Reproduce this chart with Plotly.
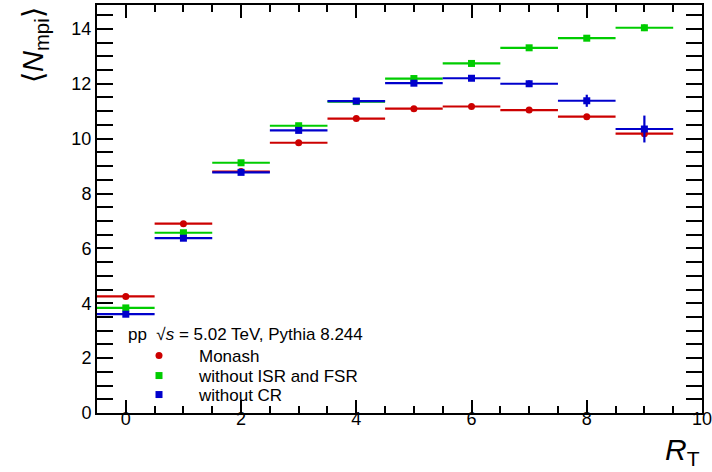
import plotly.graph_objects as go

# ---- data ----
rt = [0, 1, 2, 3, 4, 5, 6, 7, 8, 9]
bin_half = [0.5, 0.5, 0.5, 0.5, 0.5, 0.5, 0.5, 0.5, 0.5, 0.5]

monash = [4.25, 6.90, 8.80, 9.85, 10.73, 11.09, 11.17, 11.04, 10.80, 10.18]
monash_err = [0.01, 0.02, 0.03, 0.03, 0.04, 0.04, 0.05, 0.06, 0.08, 0.12]

no_isr_fsr = [3.83, 6.57, 9.12, 10.47, 11.35, 12.19, 12.74, 13.31, 13.66, 14.04]
no_isr_fsr_err = [0.01, 0.02, 0.03, 0.03, 0.04, 0.04, 0.05, 0.06, 0.08, 0.12]

no_cr = [3.60, 6.37, 8.77, 10.30, 11.37, 12.02, 12.20, 12.00, 11.38, 10.35]
no_cr_err = [0.02, 0.03, 0.04, 0.05, 0.06, 0.08, 0.09, 0.12, 0.22, 0.49]

x_range = [-0.5, 10]
y_range = [0, 14.87]

# (name, values, errors, colour, symbol, legend, x-axis)
series = [
    ("Monash", monash, monash_err, "rgb(204,0,0)", "circle", "legend", "x"),
    ("without ISR and FSR", no_isr_fsr, no_isr_fsr_err, "rgb(0,204,0)", "square", "legend2", "x"),
    ("without CR", no_cr, no_cr_err, "rgb(0,0,204)", "square", "legend3", "x2"),
]

FONT = "Liberation Sans, Arial, Helvetica, sans-serif"

fig = go.Figure()
for name, y, ey, col, sym, lg, xa in series:
    fig.add_trace(go.Scatter(
        x=rt, y=y, mode="markers", name=name, legend=lg, showlegend=True,
        xaxis=xa, yaxis="y",
        marker=dict(color=col, symbol=sym, size=7, line=dict(width=0)),
        error_x=dict(type="data", array=bin_half, color=col, thickness=2.2, width=0),
        error_y=dict(type="data", array=ey, color=col, thickness=2.2, width=0),
    ))

W, H = 712, 472
L, R, T, B = 97, 10, 5, 59
pw, ph = W - L - R, H - T - B

def px_x(p):
    return (p - L) / pw

def px_y(p):
    return (H - B - p) / ph

axis_common = dict(
    showline=True, linecolor="black", linewidth=2, mirror="allticks",
    ticks="inside", tickcolor="black", tickwidth=2,
    showgrid=False, zeroline=False, automargin=False,
    tickfont=dict(family=FONT, size=18, color="black"),
)

fig.update_layout(
    xaxis=dict(range=x_range, tick0=0, dtick=2, ticklen=13, showticklabels=False,
               minor=dict(dtick=0.5, tick0=0, ticks="inside", ticklen=7,
                          tickwidth=2, tickcolor="black", showgrid=False),
               **axis_common),
    xaxis2=dict(range=x_range, tick0=0, dtick=2, overlaying="x", anchor="free",
                position=7 / ph, side="bottom", showline=False, ticks="",
                showgrid=False, zeroline=False, showticklabels=True,
                ticklabeloverflow="allow", automargin=False,
                tickfont=dict(family=FONT, size=18, color="black")),
    yaxis=dict(range=y_range, tick0=0, dtick=2, ticklen=16,
               minor=dict(dtick=0.5, tick0=0, ticks="inside", ticklen=9,
                          tickwidth=2, tickcolor="black", showgrid=False),
               **axis_common),
)

legend_common = dict(
    bgcolor="rgba(0,0,0,0)", borderwidth=0, itemwidth=70,
    font=dict(family=FONT, size=17, color="black"),
    xanchor="left", yanchor="middle", tracegroupgap=0, visible=True,
)
leg_x = px_x(119)
fig.update_layout(
    width=W, height=H, showlegend=True,
    margin=dict(l=L, r=R, t=T, b=B, pad=0, autoexpand=False),
    paper_bgcolor="white", plot_bgcolor="white",
    font=dict(family=FONT, size=18, color="black"),
    legend=dict(x=leg_x, y=px_y(356), **legend_common),
    legend2=dict(x=leg_x, y=px_y(376), **legend_common),
    legend3=dict(x=leg_x, y=px_y(395), **legend_common),
    annotations=[
        dict(text="pp  √<i>s</i> = 5.02 TeV, Pythia 8.244", xref="paper", yref="paper",
             x=px_x(126), y=px_y(334), xanchor="left", yanchor="middle",
             showarrow=False, font=dict(family=FONT, size=17, color="black")),
        dict(text="⟨<i>N</i><sub>mpi</sub>⟩", xref="paper", yref="paper",
             x=px_x(35), y=1, xanchor="center", yanchor="top", textangle=-90,
             showarrow=False, font=dict(family=FONT, size=29, color="black")),
        dict(text="<i>R</i><sub>T</sub>", xref="paper", yref="paper",
             x=1, y=px_y(451), xanchor="right", yanchor="middle",
             showarrow=False, font=dict(family=FONT, size=30, color="black")),
    ],
)

fig.write_html("out.html")
